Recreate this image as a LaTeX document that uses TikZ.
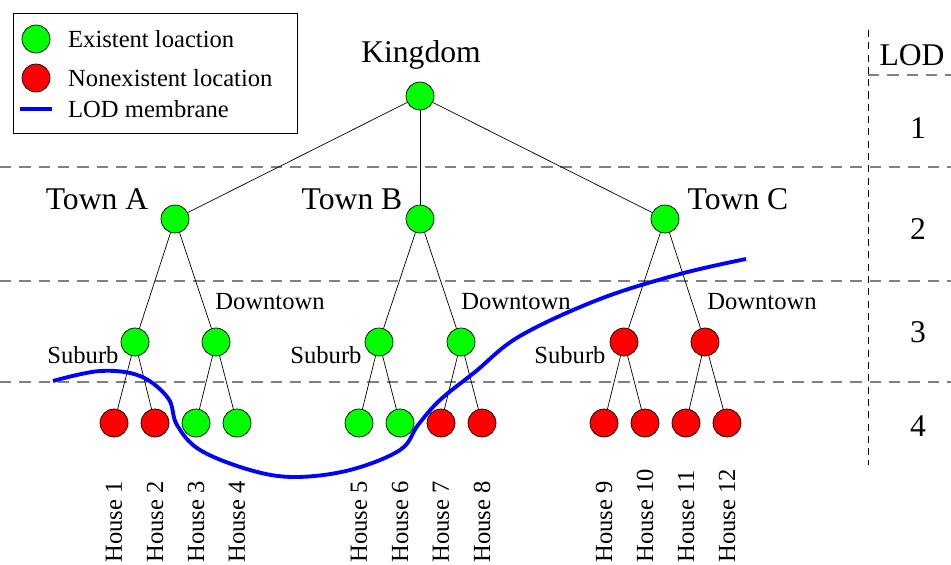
\documentclass[tikz,border=0pt]{standalone}
\usepackage{fontspec}
\setmainfont{LiberationSerif-Regular.ttf}
\begin{document}
\begin{tikzpicture}[x=0.02cm,y=-0.02cm,
    loc/.style={circle,draw=black,minimum size=0.56cm,inner sep=0pt},
    yes/.style={loc,fill=green},
    no/.style={loc,fill=red},
    levelline/.style={draw=gray,line width=0.8pt,dash pattern=on 6.5pt off 4.5pt},
    big/.style={font=\fontsize{18}{20}\selectfont},
    small/.style={font=\fontsize{14}{16}\selectfont}]
  \useasboundingbox (0,0) rectangle (951,565);
  % level separators
  \draw [levelline] (0,167) -- (951,167);
  \draw [levelline] (0,281) -- (951,281);
  \draw [levelline] (0,382) -- (951,382);
  \draw [levelline] (868,75) -- (951,75);
  \draw [black,line width=0.5pt,dash pattern=on 4pt off 3pt] (868,30) -- (868,465);
  \node [big] (lod) at (912,55) {LOD};
  \node [big] (l1) at (918,128) {1};
  \node [big] (l2) at (918,229) {2};
  \node [big] (l3) at (918,332) {3};
  \node [big] (l4) at (918,426) {4};
  % legend
  \draw [black,line width=0.5pt] (13,13) rectangle (297,133);
  \node [yes] (kyes) at (36,39) {};
  \node [no] (kno) at (36,78) {};
  \coordinate (kl1) at (20,109);
  \coordinate (kl2) at (52,109);
  \draw [blue,line width=2.2pt] (kl1) -- (kl2);
  \node [small,anchor=west] at (62,39) {Existent loaction};
  \node [small,anchor=west] at (62,78) {Nonexistent location};
  \node [small,anchor=west] at (62,109) {LOD membrane};
  % tree
  \node [yes] (k) at (420,96) {};
  \node [yes] (ta) at (175,219) {};
  \node [yes] (tb) at (420,219) {};
  \node [yes] (tc) at (665,219) {};
  \node [yes] (sa) at (135,342) {};
  \node [yes] (da) at (216,342) {};
  \node [yes] (sb) at (379,342) {};
  \node [yes] (db) at (461,342) {};
  \node [no] (sc) at (624,342) {};
  \node [no] (dc) at (705,342) {};
  \foreach \i/\x/\s in {1/114/no,2/155/no,3/196/yes,4/237/yes,
                        5/359/yes,6/400/yes,7/441/no,8/482/no,
                        9/604/no,10/645/no,11/686/no,12/727/no}
  {
    \node [\s] (h\i) at (\x,423) {};
    \node [small,rotate=90,anchor=west,inner sep=0pt] at (\x,563) {House \i};
  }
  \draw (k) -- (ta);
  \draw (k) -- (tb);
  \draw (k) -- (tc);
  \draw (ta) -- (sa);
  \draw (ta) -- (da);
  \draw (tb) -- (sb);
  \draw (tb) -- (db);
  \draw (tc) -- (sc);
  \draw (tc) -- (dc);
  \draw (sa) -- (h1);
  \draw (sa) -- (h2);
  \draw (da) -- (h3);
  \draw (da) -- (h4);
  \draw (sb) -- (h5);
  \draw (sb) -- (h6);
  \draw (db) -- (h7);
  \draw (db) -- (h8);
  \draw (sc) -- (h9);
  \draw (sc) -- (h10);
  \draw (dc) -- (h11);
  \draw (dc) -- (h12);
  % labels
  \node [big] at (421,55) {Kingdom};
  \node [big] at (97,199) {Town A};
  \node [big] at (352,199) {Town B};
  \node [big] at (738,199) {Town C};
  \node [small] at (270,302) {Downtown};
  \node [small] at (516,302) {Downtown};
  \node [small] at (762,302) {Downtown};
  \node [small] at (83,355) {Suburb};
  \node [small] at (326,355) {Suburb};
  \node [small] at (570,355) {Suburb};
  % membrane
  \draw [blue,line width=2.2pt] plot [smooth,tension=0.6] coordinates {
    (53,381) (100,371) (140,376) (168,398) (177,425) (200,450)
    (250,470) (295,477) (350,470) (400,450) (418,425) (440,400)
    (475,372) (520,336) (600,299) (680,274) (746,259)};
\end{tikzpicture}
\end{document}
